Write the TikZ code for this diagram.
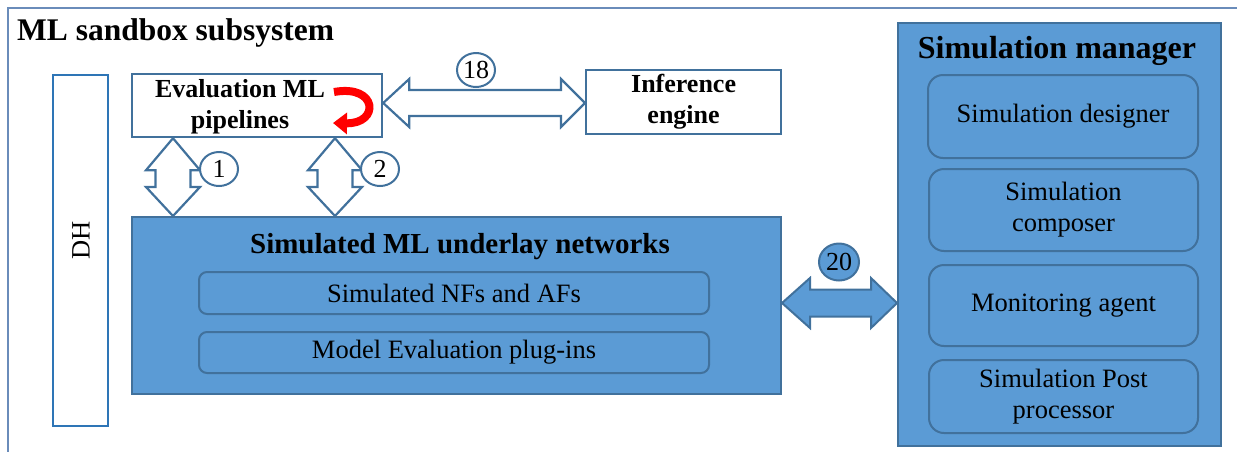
\documentclass[tikz,border=0pt]{standalone}
\usepackage{fontspec}
\setmainfont{Liberation Serif}
\usetikzlibrary{arrows.meta,calc,shapes.geometric}
\definecolor{boxblue}{HTML}{5B9BD5}
\definecolor{edgeblue}{HTML}{41719C}
\definecolor{framecol}{HTML}{6A8CBA}
\definecolor{dhblue}{HTML}{2E75B6}
\begin{document}
\begin{tikzpicture}[x=1pt,y=-1pt,
  txt/.style={font=\fontsize{26.5}{31}\selectfont, align=center, inner sep=0},
  btxt/.style={font=\bfseries\fontsize{26}{31}\selectfont, align=center, inner sep=0},
  whitebox/.style={draw=edgeblue, line width=2.2pt, fill=white, inner sep=0, anchor=north west},
  bluebox/.style={draw=edgeblue, line width=2pt, fill=boxblue, inner sep=0, anchor=north west},
  innerbox/.style={draw=edgeblue, line width=2pt, fill=boxblue, rounded corners=12pt,
    inner sep=0, anchor=north west, align=center, font=\fontsize{26.5}{31}\selectfont},
  hollow/.style={draw=edgeblue, line width=2.2pt, fill=white, line join=miter},
  solidarrow/.style={draw=edgeblue, line width=2pt, fill=boxblue, line join=miter},
  tag/.style={ellipse, draw=edgeblue, line width=2pt, fill=white, inner sep=0,
    minimum width=38pt, minimum height=34pt, font=\fontsize{26}{26}\selectfont},
]
\useasboundingbox (0,0) rectangle (1237,451);
\clip (0,0) rectangle (1237,451);

% subsystem frame and its title
\draw[framecol, line width=2pt] (8,8) rectangle (1270,490);
\node[font=\bfseries\fontsize{31.5}{34}\selectfont, anchor=base west, inner sep=0] (title) at (17,40) {ML sandbox subsystem};

% data handler column
\node[draw=dhblue, line width=1.5pt, fill=white, inner sep=0, anchor=north west,
  minimum width=55pt, minimum height=351pt] (dh) at (52,74) {};
\node[txt, rotate=90] (dhlabel) at (81,240) {DH};

% pipelines and inference engine
\node[whitebox, minimum width=250pt, minimum height=63pt] (eval) at (131,73) {};
\node[btxt] (evallabel) at (240,107) {Evaluation ML\\pipelines};
\node[whitebox, minimum width=195pt, minimum height=64pt] (inf) at (585,69) {};
\node[btxt] (inflabel) at (inf.center) {Inference\\engine};

% loop marker on the pipelines box
\draw[red, line width=8pt, -{Triangle[length=14pt,width=21pt]}]
  (334,92) .. controls (378,84) and (380,124) .. (333,123);

% simulated underlay networks
\node[bluebox, minimum width=649pt, minimum height=177pt] (under) at (131,216) {};
\node[font=\bfseries\fontsize{29}{31}\selectfont, anchor=base, inner sep=0] (undertitle) at (460,253) {Simulated ML underlay networks};
\node[innerbox, minimum width=510pt, minimum height=42pt, rounded corners=8pt] (nfs) at (198,271) {Simulated NFs and AFs};
\node[innerbox, minimum width=510pt, minimum height=41pt, rounded corners=8pt] (plug) at (198,331) {Model Evaluation plug-ins};

% simulation manager
\node[bluebox, minimum width=323pt, minimum height=423pt] (simman) at (897,22) {};
\node[font=\bfseries\fontsize{32}{34}\selectfont, anchor=base, inner sep=0] (simtitle) at (1057,58) {Simulation manager};
\node[innerbox, minimum width=270pt, minimum height=83pt, rounded corners=15pt] (des) at (927,74) {Simulation designer};
\node[innerbox, minimum width=269pt, minimum height=82pt, rounded corners=15pt] (comp) at (928,168) {Simulation\\composer};
\node[innerbox, minimum width=269pt, minimum height=81pt, rounded corners=15pt] (mon) at (928,264) {Monitoring agent};
\node[innerbox, minimum width=269pt, minimum height=73pt, rounded corners=15pt] (post) at (928,359) {Simulation Post\\processor};

% interface 18: pipelines <-> inference engine
\coordinate (a18l) at (eval.east |- 0,103);
\coordinate (a18r) at (inf.west |- 0,103);
\draw[hollow] (a18l) -- ([shift={(26,-24)}]a18l) -- ([shift={(26,-13)}]a18l)
  -- ([shift={(-24,-13)}]a18r) -- ([shift={(-24,-24)}]a18r) -- (a18r)
  -- ([shift={(-24,24)}]a18r) -- ([shift={(-24,13)}]a18r)
  -- ([shift={(26,13)}]a18l) -- ([shift={(26,24)}]a18l) -- cycle;
\node[tag] (t18) at (476,70) {18};

% interfaces 1 and 2: pipelines <-> underlay networks
\foreach \n/\xx in {1/173, 2/335} {
  \coordinate (t\n) at (eval.south -| \xx,0);
  \coordinate (b\n) at (under.north -| \xx,0);
  \draw[hollow] (t\n) -- ([shift={(27,32)}]t\n) -- ([shift={(17.5,32)}]t\n)
    -- ([shift={(17.5,-29)}]b\n) -- ([shift={(27,-29)}]b\n) -- (b\n)
    -- ([shift={(-27,-29)}]b\n) -- ([shift={(-17.5,-29)}]b\n)
    -- ([shift={(-17.5,32)}]t\n) -- ([shift={(-27,32)}]t\n) -- cycle;
}
\node[tag] (t1tag) at (219,169) {1};
\node[tag] (t2tag) at (380,169) {2};

% interface 20: underlay networks <-> simulation manager
\coordinate (a20l) at (under.east |- 0,303);
\coordinate (a20r) at (simman.west |- 0,303);
\draw[solidarrow] (a20l) -- ([shift={(28,-25)}]a20l) -- ([shift={(28,-13.5)}]a20l)
  -- ([shift={(-26,-13.5)}]a20r) -- ([shift={(-26,-25)}]a20r) -- (a20r)
  -- ([shift={(-26,25)}]a20r) -- ([shift={(-26,13.5)}]a20r)
  -- ([shift={(28,13.5)}]a20l) -- ([shift={(28,25)}]a20l) -- cycle;
\node[tag, fill=boxblue, minimum width=40pt, minimum height=37pt] (t20) at (839,262) {20};
\end{tikzpicture}
\end{document}
